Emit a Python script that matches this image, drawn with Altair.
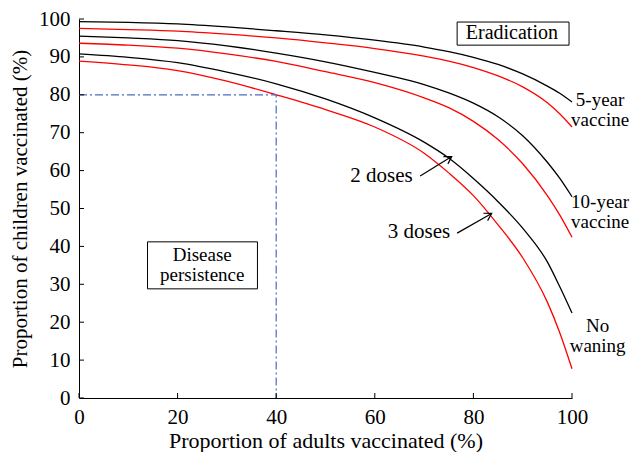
import math
import altair as alt
import pandas as pd

# ---------------- data ----------------
x_vals = [0, 10, 20, 30, 40, 50, 60, 70, 75, 80, 85, 90, 95, 97.5, 100]
five_year_2 = [99.3, 99.1, 98.7, 97.9, 96.9, 95.8, 94.4, 92.6, 91.4, 89.9, 88.0, 85.5, 82.3, 80.4, 78.1]
five_year_3 = [97.5, 97.2, 96.8, 96.0, 95.0, 93.7, 92.2, 90.2, 88.9, 87.2, 85.0, 82.1, 77.9, 75.0, 71.5]
ten_year_2 = [95.5, 95.0, 94.3, 92.9, 91.0, 88.7, 85.9, 82.7, 80.5, 77.8, 74.2, 69.2, 62.2, 58.0, 53.1]
ten_year_3 = [93.6, 93.1, 92.3, 90.8, 88.8, 86.1, 83.2, 79.2, 76.6, 73.0, 68.2, 61.8, 53.4, 48.3, 42.4]
no_waning_2 = [90.8, 89.9, 88.5, 86.0, 82.9, 78.9, 73.9, 67.5, 63.3, 57.9, 51.8, 44.8, 35.9, 29.4, 22.4]
no_waning_3 = [88.9, 87.9, 86.4, 83.6, 80.0, 76.1, 71.5, 64.6, 59.4, 53.4, 45.7, 37.0, 25.3, 17.3, 7.7]

x_ticks = [0, 20, 40, 60, 80, 100]
y_ticks = [0, 10, 20, 30, 40, 50, 60, 70, 80, 90, 100]

guide_x = [0, 40, 40]
guide_y = [80, 80, 0]

side_labels = ["5-year\nvaccine", "10-year\nvaccine", "No\nwaning"]
side_x = [105.7, 105.7, 105.2]
side_y = [81.0, 54.2, 21.4]          # top of first line

box_labels = ["Disease\npersistence"]
box_lab_x = [25.0]
box_lab_y = [40.1]                   # top of first line

title_labels = ["Eradication"]
title_lab_x = [87.8]
title_lab_y = [96.3]

box_x1 = [76.7, 13.9]
box_x2 = [99.4, 36.2]
box_y1 = [99.2, 41.2]
box_y2 = [93.1, 28.8]

arrow_labels = ["2 doses", "3 doses"]
arrow_lab_x = [67.7, 75.3]
arrow_lab_y = [58.6, 43.9]
arrow_tail_x = [69.2, 76.7]
arrow_tail_y = [58.6, 43.5]
arrow_head_x = [75.6, 83.7]
arrow_head_y = [63.7, 48.7]

# ---------------- tables ----------------
W, H = 493, 379
FONT = "Liberation Serif"
FS = 21
LH = 20

rows = []
for name, dose, vals in [
    ("5y2", "2 doses", five_year_2), ("5y3", "3 doses", five_year_3),
    ("10y2", "2 doses", ten_year_2), ("10y3", "3 doses", ten_year_3),
    ("nw2", "2 doses", no_waning_2), ("nw3", "3 doses", no_waning_3),
]:
    for x, y in zip(x_vals, vals):
        rows.append({"series": name, "dose": dose, "x": x, "y": y})
df = pd.DataFrame(rows)

xs = alt.Scale(domain=[0, 100], nice=False, zero=False)
ys = alt.Scale(domain=[0, 100], nice=False, zero=False)
x_axis = alt.Axis(values=x_ticks, title="Proportion of adults vaccinated (%)", ticks=False,
                  grid=False, labelPadding=8, titlePadding=3, format="d",
                  labelFlush=False, labelOverlap=False, titleFontSize=22)
y_axis = alt.Axis(values=y_ticks, title="Proportion of children vaccinated (%)", ticks=False,
                  grid=False, labelPadding=9, titlePadding=8, format="d",
                  labelFlush=False, labelOverlap=False, titleFontSize=21)


def X(f):
    return alt.X(f, scale=xs, axis=x_axis)


def Y(f):
    return alt.Y(f, scale=ys, axis=y_axis)


lines = alt.Chart(df).mark_line(strokeWidth=1.3, interpolate="monotone").encode(
    x=X("x:Q"), y=Y("y:Q"),
    color=alt.Color("dose:N", scale=alt.Scale(domain=["2 doses", "3 doses"],
                                              range=["#000000", "#ff0000"]), legend=None),
    detail="series:N",
)

gdf = pd.DataFrame({"i": list(range(len(guide_x))), "x": guide_x, "y": guide_y})
guide = alt.Chart(gdf).mark_line(color="#4a6cc2", strokeWidth=1.2,
                                 strokeDash=[8, 3, 2, 3]).encode(
    x=X("x:Q"), y=Y("y:Q"), order="i:Q")

xt = alt.Chart(pd.DataFrame({"x": x_ticks})).mark_rule(color="black", strokeWidth=1).encode(
    x=X("x:Q"), y=alt.value(H), y2=alt.value(H - 5))
yt = alt.Chart(pd.DataFrame({"y": y_ticks})).mark_rule(color="black", strokeWidth=1).encode(
    y=Y("y:Q"), x=alt.value(0), x2=alt.value(5))

bdf = pd.DataFrame({"x": box_x1, "x2": box_x2, "y": box_y1, "y2": box_y2})
boxes = alt.Chart(bdf).mark_rect(fill="white", stroke="black", strokeWidth=1).encode(
    x=X("x:Q"), x2="x2:Q", y=Y("y:Q"), y2="y2:Q")

erad_text = alt.Chart(pd.DataFrame({"t": title_labels, "x": title_lab_x, "y": title_lab_y})).mark_text(
    font=FONT, fontSize=20, color="black", align="center", baseline="middle").encode(
    x=X("x:Q"), y=Y("y:Q"), text="t:N")

box_text = alt.Chart(pd.DataFrame({"t": box_labels, "x": box_lab_x, "y": box_lab_y})).mark_text(
    font=FONT, fontSize=19, color="black", align="center", baseline="top",
    lineBreak="\n", lineHeight=LH).encode(
    x=X("x:Q"), y=Y("y:Q"), text="t:N")

side_text = alt.Chart(pd.DataFrame({"t": side_labels, "x": side_x, "y": side_y})).mark_text(
    font=FONT, fontSize=19, color="black", align="center", baseline="top",
    lineBreak="\n", lineHeight=LH).encode(
    x=X("x:Q"), y=Y("y:Q"), text="t:N")

arrow_text = alt.Chart(pd.DataFrame({"t": arrow_labels, "x": arrow_lab_x, "y": arrow_lab_y})).mark_text(
    font=FONT, fontSize=FS, color="black", align="right", baseline="middle").encode(
    x=X("x:Q"), y=Y("y:Q"), text="t:N")

angles = []
for tx, ty, hx, hy in zip(arrow_tail_x, arrow_tail_y, arrow_head_x, arrow_head_y):
    dx = (hx - tx) * W / 100.0
    dy = -(hy - ty) * H / 100.0
    angles.append(math.degrees(math.atan2(dy, dx)) % 360)

adf = pd.DataFrame({"tx": arrow_tail_x, "ty": arrow_tail_y,
                    "x": arrow_head_x, "y": arrow_head_y, "ang": angles})
shafts = alt.Chart(adf).mark_rule(color="black", strokeWidth=1.2).encode(
    x=X("tx:Q"), y=Y("ty:Q"), x2="x:Q", y2="y:Q")
heads = alt.Chart(adf).mark_point(shape="M-1,-0.6L0,0L-1,0.6", filled=False,
                                  stroke="black", strokeWidth=1.2, size=200, opacity=1).encode(
    x=X("x:Q"), y=Y("y:Q"), angle=alt.Angle("ang:Q", scale=None))

chart = alt.layer(
    lines, guide, xt, yt, boxes, erad_text, box_text, side_text, arrow_text, shafts, heads
).properties(
    width=W, height=H,
    autosize=alt.AutoSizeParams(type="none"),
    padding={"left": 71, "top": 11, "right": 63, "bottom": 54},
).configure_view(stroke=None).configure_axis(
    domainColor="black", domainWidth=1,
    labelFont=FONT, labelFontSize=FS, labelColor="black",
    titleFont=FONT, titleFontWeight="normal", titleColor="black",
)

chart.save("out.html", embed_options={"renderer": "svg", "actions": False})
